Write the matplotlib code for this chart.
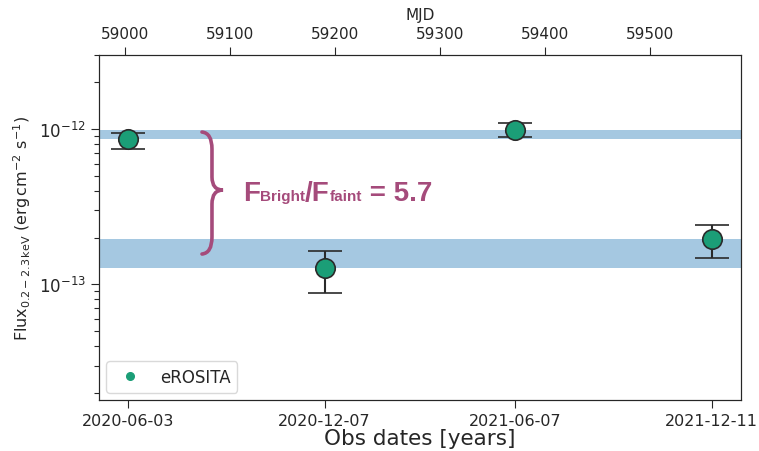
import matplotlib
matplotlib.use("Agg")
import matplotlib.pyplot as plt
import pandas as pd
from matplotlib.path import Path
from matplotlib.patches import PathPatch
from matplotlib.lines import Line2D
from matplotlib.offsetbox import TextArea, HPacker, AnnotationBbox

# eROSITA observations
obs_dates = ["2020-06-03", "2020-12-07", "2021-06-07", "2021-12-11"]
flux = [8.6e-13, 1.27e-13, 9.85e-13, 1.95e-13]
flux_lo = [7.5e-13, 8.75e-14, 8.87e-13, 1.48e-13]
flux_hi = [9.5e-13, 1.63e-13, 1.09e-12, 2.40e-13]
bright_idx = [0, 2]
faint_idx = [1, 3]
mjd_ticks = [59000, 59100, 59200, 59300, 59400, 59500]
ratio_label = "5.7"

mjd = [(pd.Timestamp(d) - pd.Timestamp("1858-11-17")).days for d in obs_dates]
err_lo = [f - lo for f, lo in zip(flux, flux_lo)]
err_hi = [hi - f for f, hi in zip(flux, flux_hi)]

txt_col = "#262626"
green = "#1b9e77"
purple = "#a54b7b"

plt.rcParams["axes.edgecolor"] = txt_col
plt.rcParams["text.color"] = txt_col
plt.rcParams["axes.labelcolor"] = txt_col
plt.rcParams["xtick.color"] = txt_col
plt.rcParams["ytick.color"] = txt_col

fig = plt.figure(figsize=(7.59, 4.52), dpi=100)
ax = fig.add_axes([0.1304, 0.1128, 0.8459, 0.7632])

# Flux ranges of the bright and faint states
b = [flux[i] for i in bright_idx]
f = [flux[i] for i in faint_idx]
ax.axhspan(min(b), max(b), color="tab:blue", alpha=0.4, lw=0, zorder=1)
ax.axhspan(min(f), max(f), color="tab:blue", alpha=0.4, lw=0, zorder=1)

ax.errorbar(mjd, flux, yerr=[err_lo, err_hi], fmt="o", ms=14, mfc=green,
            mec="#2a2a2a", mew=1.2, ecolor="#2a2a2a", elinewidth=1.5,
            capsize=12, capthick=1.5, zorder=3)

ax.set_yscale("log")
ax.set_ylim(1.8e-14, 3e-12)
ax.set_xlim(58975, 59587)
ax.set_xticks(mjd)
ax.set_xticklabels(obs_dates)
ax.tick_params(axis="x", length=6, width=0.8, labelsize=11.5, pad=3)
ax.tick_params(axis="y", which="major", length=6, width=0.8, labelsize=12)
ax.tick_params(axis="y", which="minor", length=3.5, width=0.8)
ax.set_xlabel("Obs dates [years]", fontsize=15.5, labelpad=0)
ax.set_ylabel(r"Flux$_{0.2-2.3\,\mathrm{keV}}$ (erg$\,$cm$^{-2}$ s$^{-1}$)",
              fontsize=11.5, labelpad=4)

top = ax.twiny()
top.set_xlim(ax.get_xlim())
top.set_xticks(mjd_ticks)
top.tick_params(axis="x", length=6, width=0.8, labelsize=11, pad=4)
top.set_xlabel("MJD", fontsize=11, labelpad=5)

handle = Line2D([], [], marker="o", ls="none", ms=5.5, mfc=green, mec=green)
ax.legend([handle], ["eROSITA"], loc="lower left", fontsize=12,
          frameon=True, framealpha=0.8, edgecolor="#d0d0d0",
          borderaxespad=0.45)

# Curly brace linking the two flux levels (axes-fraction coordinates)
def ax_pt(px, py):
    return ((px - 99) / 642, (401 - py) / 345)

verts = [ax_pt(202, 133), ax_pt(212, 134), ax_pt(212, 150),
         ax_pt(212, 178),
         ax_pt(212, 191), ax_pt(223, 191),
         ax_pt(212, 191), ax_pt(212, 205),
         ax_pt(212, 238),
         ax_pt(212, 254), ax_pt(202, 255)]
codes = [Path.MOVETO, Path.CURVE3, Path.CURVE3, Path.LINETO,
         Path.CURVE3, Path.CURVE3, Path.CURVE3, Path.CURVE3,
         Path.LINETO, Path.CURVE3, Path.CURVE3]
ax.add_patch(PathPatch(Path(verts, codes), transform=ax.transAxes,
                       fill=False, ec=purple, lw=2.6, capstyle="round",
                       zorder=4))

big = dict(size=20, weight="bold", family="Liberation Sans", color=purple)
small = dict(size=11, weight="bold", family="Liberation Sans", color=purple)
parts = [TextArea("F", textprops=big), TextArea("Bright", textprops=small),
         TextArea("/F", textprops=big), TextArea("faint", textprops=small),
         TextArea(" = " + ratio_label, textprops=big)]
pack = HPacker(children=parts, align="baseline", pad=0, sep=0)
ab = AnnotationBbox(pack, (0.224, 0.600), xycoords="axes fraction",
                    box_alignment=(0, 0.5), frameon=False, pad=0)
ax.add_artist(ab)

fig.savefig("out.png", dpi=100)
